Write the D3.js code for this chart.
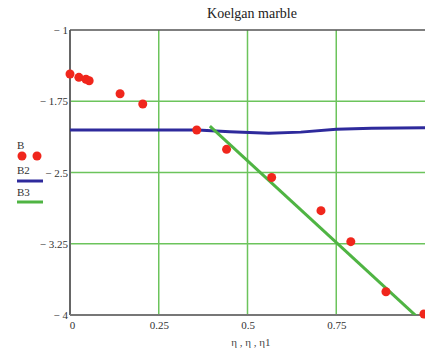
<!DOCTYPE html>
<html>
<head>
<meta charset="utf-8">
<script src="https://cdn.jsdelivr.net/npm/d3@7"></script>
<style>
  body { margin: 0; background: #fff; }
  svg { display: block; font-family: "Liberation Serif", "DejaVu Serif", serif; }
</style>
</head>
<body>
<svg id="chart" width="425" height="353"></svg>
<script>
// measured points B
const etaB = [0, 0.025, 0.045, 0.054, 0.141, 0.205, 0.357, 0.441, 0.568, 0.707, 0.791, 0.890, 0.997];
const valB = [-1.463, -1.498, -1.519, -1.534, -1.671, -1.779, -2.053, -2.256, -2.553, -2.902, -3.228, -3.755, -3.99];

// B2 curve
const etaB2 = [0, 0.25, 0.36, 0.45, 0.56, 0.65, 0.75, 0.85, 1.0];
const valB2 = [-2.053, -2.053, -2.053, -2.07, -2.088, -2.075, -2.046, -2.033, -2.03];

// B3 fit line
const etaB3 = [0.394, 1.0];
const valB3 = [-2.011, -4.096];

const xTicks = [0, 0.25, 0.5, 0.75];
const yTicks = [-1, -1.75, -2.5, -3.25, -4];

const svg = d3.select('#chart');
const margin = { top: 30, right: 0, bottom: 38, left: 70 };
const width = 425 - margin.left - margin.right;
const height = 353 - margin.top - margin.bottom;

const x = d3.scaleLinear().domain([0, 1]).range([0, width]);
const y = d3.scaleLinear().domain([-4, -1]).range([height, 0]);

svg.append('defs').append('clipPath').attr('id', 'clip')
  .append('rect').attr('width', width).attr('height', height);

const g = svg.append('g').attr('transform', `translate(${margin.left},${margin.top})`);

// grid
g.append('g').selectAll('line')
  .data(xTicks.filter(d => d > 0))
  .enter().append('line')
  .attr('x1', d => x(d)).attr('x2', d => x(d))
  .attr('y1', 0).attr('y2', height)
  .attr('stroke', '#6cc45c').attr('stroke-width', 1.5);
g.append('g').selectAll('line')
  .data(yTicks.filter(d => d > -4 && d < -1))
  .enter().append('line')
  .attr('x1', 0).attr('x2', width)
  .attr('y1', d => y(d)).attr('y2', d => y(d))
  .attr('stroke', '#6cc45c').attr('stroke-width', 1.5);

// axes
const fmt = d => d < 0 ? '\u2212 ' + Math.abs(d) : String(d);
const yAxis = g.append('g')
  .call(d3.axisLeft(y).tickValues(yTicks).tickSize(0).tickPadding(2).tickFormat(fmt));
yAxis.select('.domain').remove();
yAxis.selectAll('text').attr('font-size', 11).attr('fill', '#333')
  .attr('font-family', '"Liberation Serif", serif');

const xAxis = g.append('g').attr('transform', `translate(0,${height})`)
  .call(d3.axisBottom(x).tickValues(xTicks).tickSize(0).tickPadding(6).tickFormat(d => String(d)));
xAxis.select('.domain').remove();
xAxis.selectAll('text').attr('font-size', 11).attr('fill', '#333')
  .attr('font-family', '"Liberation Serif", serif')
  .attr('dx', d => d === 0 ? 2 : 0);

// frame
g.append('line').attr('x1', 0).attr('x2', 0).attr('y1', 0).attr('y2', height)
  .attr('stroke', '#666').attr('stroke-width', 2);
g.append('line').attr('x1', 0).attr('x2', width).attr('y1', height).attr('y2', height)
  .attr('stroke', '#777').attr('stroke-width', 2);
g.append('line').attr('x1', 0).attr('x2', width).attr('y1', 0).attr('y2', 0)
  .attr('stroke', '#555').attr('stroke-width', 1.5);

const plot = g.append('g').attr('clip-path', 'url(#clip)');
const line = d3.line().x(d => x(d[0])).y(d => y(d[1]));

plot.append('path')
  .datum(etaB2.map((e, i) => [e, valB2[i]]))
  .attr('d', line).attr('fill', 'none')
  .attr('stroke', '#2e2a9c').attr('stroke-width', 3);

plot.append('path')
  .datum(etaB3.map((e, i) => [e, valB3[i]]))
  .attr('d', line).attr('fill', 'none')
  .attr('stroke', '#4fb443').attr('stroke-width', 3);

g.append('g').selectAll('circle')
  .data(etaB.map((e, i) => [e, valB[i]]))
  .enter().append('circle')
  .attr('cx', d => x(d[0])).attr('cy', d => y(d[1]))
  .attr('r', 4.5).attr('fill', '#f0261c');

// title
svg.append('text').attr('x', 252).attr('y', 18)
  .attr('text-anchor', 'middle').attr('font-size', 14).attr('fill', '#222')
  .text('Koelgan marble');

// x label
svg.append('text').attr('x', 251).attr('y', 346)
  .attr('text-anchor', 'middle').attr('font-size', 11).attr('fill', '#444')
  .text('\u03b7 , \u03b7 , \u03b71');

// legend
const leg = svg.append('g');
leg.append('text').attr('x', 17).attr('y', 149).attr('font-size', 11).attr('fill', '#333').text('B');
leg.selectAll('circle').data([22, 37]).enter().append('circle')
  .attr('cx', d => d).attr('cy', 156).attr('r', 4.5).attr('fill', '#f0261c');
leg.append('text').attr('x', 17).attr('y', 174).attr('font-size', 11).attr('fill', '#333').text('B2');
leg.append('line').attr('x1', 17).attr('x2', 43).attr('y1', 181).attr('y2', 181)
  .attr('stroke', '#2e2a9c').attr('stroke-width', 3);
leg.append('text').attr('x', 17).attr('y', 196).attr('font-size', 11).attr('fill', '#333').text('B3');
leg.append('line').attr('x1', 17).attr('x2', 43).attr('y1', 202).attr('y2', 202)
  .attr('stroke', '#4fb443').attr('stroke-width', 3);
</script>
</body>
</html>
